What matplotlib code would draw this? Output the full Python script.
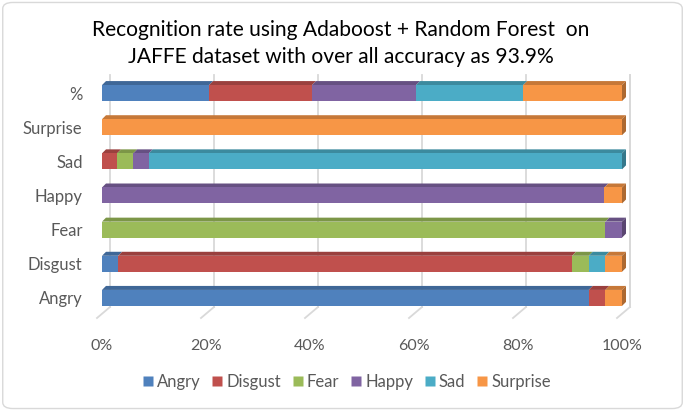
import matplotlib
matplotlib.use("Agg")
import matplotlib.pyplot as plt
from matplotlib.patches import Polygon, FancyBboxPatch
from matplotlib.colors import to_rgb
from matplotlib.lines import Line2D
import numpy as np

plt.rcParams['font.family'] = ['Lato', 'DejaVu Sans']

rows = ["Angry", "Disgust", "Fear", "Happy", "Sad", "Surprise", "%"]
series = ["Angry", "Disgust", "Fear", "Happy", "Sad", "Surprise"]
colors = ["#4F81BD", "#C0504D", "#9BBB59", "#8064A2", "#4BACC6", "#F79646"]

# values per series (one per row, in the order of `rows`), percent
angry    = [93.6, 3.1, 0.0, 0.0, 0.0, 0.0, 20.6]
disgust  = [3.2, 87.3, 0.0, 0.0, 2.9, 0.0, 19.8]
fear     = [0.0, 3.2, 96.8, 0.0, 3.1, 0.0, 0.0]
happy    = [0.0, 0.0, 3.2, 96.6, 3.0, 0.0, 20.0]
sad      = [0.0, 3.2, 0.0, 0.0, 91.0, 0.0, 20.6]
surprise = [3.2, 3.2, 0.0, 3.4, 0.0, 100.0, 19.0]
values = [angry, disgust, fear, happy, sad, surprise]
xticks = [0, 20, 40, 60, 80, 100]
xticklabels = ["0%", "20%", "40%", "60%", "80%", "100%"]

W, H, DPI = 6.85, 4.11, 100
fig = plt.figure(figsize=(W, H), dpi=DPI)
L, R = 102 / 685, 622 / 685
B, T = 1 - 315 / 411, 1 - 76 / 411
ax = fig.add_axes([L, B, R - L, T - B])
ax.set_xlim(0, 100)
ax.set_ylim(-0.5, len(rows) - 0.5)

# pixel -> data conversions for 3D depth
px_x = 100 / ((R - L) * W * DPI)
px_y = len(rows) / ((T - B) * H * DPI)
dx, dy = 4 * px_x, 4 * px_y
gdx = 8 * px_x

def darker(c, f=0.75):
    r, g, b = to_rgb(c)
    return (r * f, g * f, b * f)

# back-wall gridlines + floor slant
for t in xticks:
    ax.plot([t + gdx, t + gdx], [-0.5 + 8 * px_y, len(rows) - 0.5 + 0.02], color="#D9D9D9",
            lw=1.3, clip_on=False, zorder=0)
    ax.plot([t + gdx, t - 5 * px_x], [-0.5 + 8 * px_y, -0.5 - 3 * px_y], color="#D9D9D9",
            lw=1.3, clip_on=False, zorder=0)

bh = 16 * px_y
ypos = np.arange(len(rows))
left = np.zeros(len(rows))
totals = np.sum(values, axis=0)
for s, (name, col, v) in enumerate(zip(series, colors, values)):
    v = np.array(v)
    ax.barh(ypos, v, left=left, height=bh, color=col, edgecolor="none", zorder=3)
    for i in range(len(rows)):
        if v[i] <= 0:
            continue
        x0, x1 = left[i], left[i] + v[i]
        yt = ypos[i] + bh / 2
        top = Polygon([[x0, yt], [x1, yt], [x1 + dx, yt + dy], [x0 + dx, yt + dy]],
                      closed=True, facecolor=darker(col, 0.8), edgecolor="none",
                      zorder=2, clip_on=False)
        ax.add_patch(top)
        if abs(x1 - totals[i]) < 1e-6:
            yb = ypos[i] - bh / 2
            side = Polygon([[x1, yb], [x1, yt], [x1 + dx, yt + dy], [x1 + dx, yb + dy]],
                           closed=True, facecolor=darker(col, 0.7), edgecolor="none",
                           zorder=2, clip_on=False)
            ax.add_patch(side)
    left += v

# right wall line
ax.plot([100 + gdx, 100 + gdx], [-0.5 + 8 * px_y, len(rows) - 0.5 + 0.02], color="#D9D9D9",
        lw=1.3, clip_on=False, zorder=0)

for sp in ax.spines.values():
    sp.set_visible(False)
ax.set_xticks(xticks)
ax.set_xticklabels(xticklabels)
ax.set_yticks(ypos)
ax.set_yticklabels(rows)
ax.tick_params(axis="both", length=0, labelcolor="#595959")
ax.tick_params(axis="x", pad=17, labelsize=11.5)
ax.tick_params(axis="y", pad=14, labelsize=12)

fig.text(0.497, 1 - 30 / 411, "Recognition rate using Adaboost + Random Forest  on",
         ha="center", va="center", fontsize=15.1, color="#000000")
fig.text(0.497, 1 - 57 / 411, "JAFFE dataset with over all accuracy as 93.9%",
         ha="center", va="center", fontsize=15.1, color="#000000")

handles = [Line2D([0], [0], marker="s", linestyle="none", markersize=7,
                  markerfacecolor=c, markeredgecolor="none") for c in colors]
fig.legend(handles, series, loc="center", bbox_to_anchor=(0.505, 1 - 382 / 411),
           ncol=6, frameon=False, fontsize=12, labelcolor="#595959",
           handletextpad=0.15, columnspacing=0.6, handlelength=0.8)

border = FancyBboxPatch((0.004, 0.006), 0.992, 0.988, boxstyle="round,pad=0,rounding_size=0.015",
                        transform=fig.transFigure, facecolor="none", edgecolor="#D9D9D9", lw=1.0)
fig.patches.append(border)

fig.savefig("out.png", dpi=DPI)
